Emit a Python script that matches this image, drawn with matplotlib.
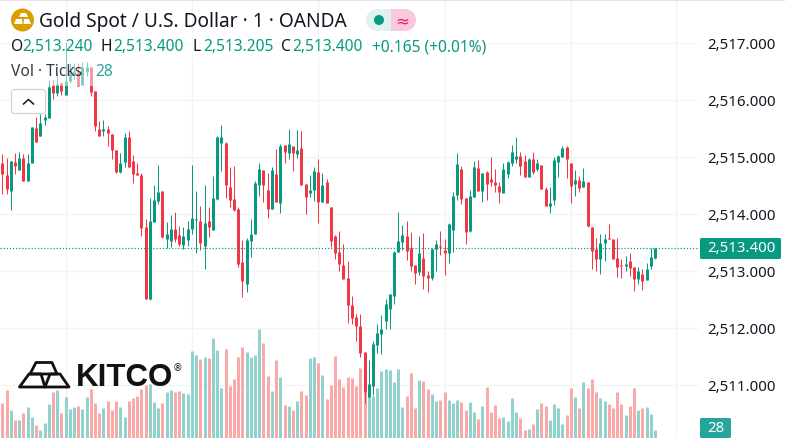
import numpy as np
import matplotlib
matplotlib.use("Agg")
import matplotlib.pyplot as plt
from matplotlib.patches import Circle, FancyBboxPatch, Polygon, Rectangle
from matplotlib.ticker import StrMethodFormatter
from matplotlib.transforms import ScaledTranslation

# ----- Data (prices are stored as offset from price_base) -----

price_base = 2500

opens = [
    14.90, 14.69, 14.41, 14.92, 14.78, 14.99, 14.59, 14.90, 15.52, 15.38,
    15.66, 15.69, 16.27, 16.13, 16.31, 16.10, 16.34, 16.45, 16.50, 16.27,
    16.50, 16.59, 16.17, 15.50, 15.46, 15.50, 15.41, 15.13, 14.75, 14.92,
    15.36, 14.94, 14.73, 14.69, 13.78, 12.51, 13.87, 14.24, 14.41, 13.57,
    13.53, 13.74, 13.64, 13.46, 13.55, 13.74, 13.90, 13.89, 13.45, 13.89,
    13.73, 14.27, 15.25, 15.25, 14.48, 14.27, 14.10, 13.17, 12.78, 13.53,
    13.66, 14.52, 14.78, 14.43, 14.10, 14.71, 14.20, 15.22, 15.08, 15.20,
    15.06, 15.17, 14.53, 14.38, 14.43, 14.75, 14.22, 14.57, 14.13, 13.62,
    13.34, 13.11, 12.89, 12.41, 12.20, 12.04, 11.59, 10.80, 10.99, 11.71,
    11.90, 12.13, 12.34, 12.57, 13.34, 13.52, 13.62, 13.41, 13.11, 12.99,
    13.24, 12.94, 12.89, 13.39, 13.45, 13.38, 13.32, 13.73, 14.34, 14.80,
    14.29, 13.71, 14.31, 14.82, 14.41, 14.75, 14.62, 14.57, 14.50, 14.38,
    14.71, 14.90, 14.97, 15.03, 14.94, 14.66, 14.97, 14.80, 14.87, 14.45,
    14.15, 14.25, 14.92, 15.01, 15.18, 14.90, 14.53, 14.60, 14.48, 14.57,
    13.78, 13.39, 13.22, 13.50, 13.59, 13.57, 13.24, 13.11, 13.10, 13.18,
    13.08, 12.87, 12.96, 12.85, 13.10, 13.24,
]
highs = [
    15.06, 14.99, 14.94, 15.08, 15.10, 15.06, 15.06, 15.53, 15.71, 15.76,
    15.76, 16.36, 16.36, 16.46, 16.32, 17.03, 16.66, 16.66, 16.66, 16.67,
    16.67, 16.59, 16.17, 15.64, 15.66, 15.55, 15.41, 15.13, 15.08, 15.43,
    15.46, 15.04, 14.90, 14.73, 13.92, 14.29, 14.52, 14.87, 14.41, 13.87,
    13.99, 14.04, 13.80, 13.78, 13.89, 14.87, 14.41, 14.15, 14.52, 14.13,
    14.68, 15.38, 15.57, 15.27, 14.83, 14.85, 14.13, 13.55, 13.59, 13.92,
    14.59, 14.90, 14.78, 14.73, 14.83, 15.15, 15.24, 15.22, 15.50, 15.20,
    15.48, 15.46, 14.53, 14.69, 14.83, 14.97, 14.73, 14.62, 14.13, 13.64,
    13.71, 13.48, 13.18, 12.57, 12.25, 12.25, 11.59, 11.45, 11.78, 12.08,
    12.24, 12.52, 12.61, 13.36, 14.04, 13.82, 13.89, 13.69, 13.11, 13.62,
    13.67, 13.01, 13.41, 13.55, 13.71, 13.57, 13.85, 14.39, 15.08, 14.85,
    14.29, 14.43, 14.94, 14.96, 14.73, 14.76, 15.01, 14.80, 14.57, 14.90,
    14.94, 15.22, 15.36, 15.10, 15.04, 14.99, 15.10, 14.97, 14.87, 14.48,
    14.48, 15.01, 15.04, 15.20, 15.20, 14.90, 14.78, 14.68, 14.82, 14.57,
    13.78, 13.59, 13.66, 13.66, 13.83, 13.57, 13.59, 13.22, 13.27, 13.32,
    13.08, 13.08, 13.04, 13.15, 13.41, 13.40,
]
lows = [
    14.36, 14.36, 14.08, 14.71, 14.78, 14.59, 14.59, 14.90, 15.27, 15.38,
    15.57, 15.69, 16.03, 16.08, 16.10, 16.10, 16.31, 16.38, 16.25, 16.27,
    16.43, 16.08, 15.46, 15.38, 15.38, 15.20, 14.97, 14.73, 14.73, 14.83,
    14.83, 14.55, 14.69, 13.62, 12.51, 12.50, 13.87, 14.18, 13.59, 13.41,
    13.43, 13.52, 13.45, 13.39, 13.45, 13.66, 13.32, 13.38, 13.04, 13.60,
    13.73, 14.25, 14.76, 14.29, 14.13, 14.06, 13.08, 12.55, 12.64, 13.25,
    13.66, 14.32, 14.22, 13.94, 14.10, 14.22, 14.03, 14.90, 14.97, 14.76,
    14.99, 14.52, 14.01, 14.31, 14.24, 13.84, 14.22, 14.20, 13.43, 13.22,
    13.01, 12.87, 12.10, 12.08, 11.78, 11.50, 10.69, 10.80, 10.83, 11.57,
    11.55, 11.99, 11.99, 12.43, 13.33, 13.38, 13.20, 13.01, 12.78, 12.94,
    12.69, 12.64, 12.85, 13.00, 13.29, 12.94, 13.15, 13.34, 14.25, 14.18,
    13.48, 13.69, 14.31, 14.41, 14.22, 14.25, 14.50, 14.39, 14.20, 14.38,
    14.64, 14.85, 14.90, 14.69, 14.66, 14.66, 14.71, 14.76, 14.45, 14.15,
    14.03, 14.17, 14.66, 15.01, 14.64, 14.20, 14.32, 14.39, 14.48, 13.78,
    13.04, 13.01, 12.96, 13.18, 13.57, 13.22, 12.90, 12.89, 13.01, 12.92,
    12.66, 12.78, 12.68, 12.85, 13.04, 13.22,
]
closes = [
    14.71, 14.45, 14.94, 14.85, 14.99, 14.59, 14.90, 15.53, 15.27, 15.60,
    15.71, 16.24, 16.13, 16.29, 16.17, 16.34, 16.48, 16.52, 16.25, 16.59,
    16.59, 16.15, 15.55, 15.38, 15.50, 15.43, 15.13, 14.75, 14.90, 15.36,
    14.83, 14.71, 14.69, 13.76, 12.51, 13.89, 14.25, 14.39, 13.60, 13.66,
    13.74, 13.57, 13.48, 13.62, 13.74, 13.94, 13.92, 13.50, 13.85, 13.78,
    14.29, 15.36, 15.36, 14.52, 14.25, 14.08, 13.13, 12.83, 13.55, 13.66,
    14.55, 14.80, 14.52, 14.10, 14.78, 14.22, 15.20, 15.10, 15.24, 15.08,
    15.13, 14.52, 14.31, 14.43, 14.76, 14.22, 14.52, 14.20, 13.54, 13.32,
    13.13, 12.87, 12.40, 12.18, 12.04, 11.57, 10.89, 11.03, 11.73, 11.92,
    11.99, 12.43, 12.61, 13.34, 13.53, 13.64, 13.36, 13.10, 12.97, 13.32,
    12.92, 12.89, 13.39, 13.48, 13.43, 13.32, 13.83, 14.32, 14.89, 14.27,
    13.69, 14.32, 14.83, 14.41, 14.73, 14.53, 14.57, 14.52, 14.39, 14.80,
    14.92, 15.10, 15.03, 14.85, 14.66, 14.97, 14.75, 14.90, 14.45, 14.15,
    14.20, 14.96, 15.03, 15.17, 14.97, 14.50, 14.60, 14.46, 14.59, 13.80,
    13.36, 13.22, 13.50, 13.57, 13.57, 13.22, 13.08, 13.10, 13.13, 13.06,
    12.87, 13.01, 12.83, 13.04, 13.25, 13.40,
]
volumes = [
    122, 168, 98, 63, 63, 88, 108, 74, 46, 28,
    52, 119, 161, 168, 88, 144, 102, 108, 112, 102,
    144, 172, 122, 88, 105, 130, 98, 130, 108, 74,
    130, 140, 147, 172, 186, 189, 126, 105, 122, 161,
    168, 161, 164, 158, 154, 304, 290, 276, 284, 280,
    350, 308, 175, 312, 182, 206, 284, 318, 301, 284,
    290, 382, 332, 217, 164, 273, 214, 116, 112, 98,
    130, 164, 150, 280, 284, 262, 220, 136, 186, 287,
    206, 178, 214, 210, 182, 245, 161, 147, 147, 175,
    234, 241, 238, 196, 241, 108, 147, 228, 105, 203,
    200, 172, 154, 130, 133, 161, 133, 122, 133, 126,
    98, 126, 91, 66, 112, 178, 91, 116, 70, 74,
    60, 140, 91, 70, 28, 32, 49, 102, 122, 112,
    63, 119, 105, 49, 80, 175, 144, 105, 196, 175,
    206, 161, 140, 130, 119, 105, 161, 119, 80, 112,
    175, 98, 105, 108, 84, 28,
]

price_ticks = [2511, 2512, 2513, 2514, 2515, 2516, 2517]
time_ticks = [15, 45, 75, 105, 135, 160]
last_price = 2513.4
last_volume = 28

# ----- Style -----

W, H = 785, 439
PANE_W = 698
PX = 0.72  # one pixel in points at dpi 100
GREEN = "#089981"
RED = "#f23645"
VOL_GREEN = "#92d2cc"
VOL_RED = "#f9a9a8"
GRID = "#f2f3f5"
TEXT = "#131722"

plt.rcParams["font.family"] = ["Noto Sans", "DejaVu Sans"]

fig = plt.figure(figsize=(W / 100, H / 100), dpi=100, facecolor="white")
rect = [0, 0, PANE_W / W, 1]

x = np.arange(len(closes))
o = np.array(opens) + price_base
h = np.array(highs) + price_base
l = np.array(lows) + price_base
c = np.array(closes) + price_base
up = c >= o

xlim = (-0.57, 165.2)
ylim = (2510.075, 2517.777)

# ----- Grid and price scale -----

ax = fig.add_axes(rect, zorder=0)
ax.set_xlim(xlim)
ax.set_ylim(ylim)
ax.set_yticks(price_ticks)
ax.set_xticks(time_ticks)
ax.tick_params(axis="x", length=0, labelbottom=False)
ax.tick_params(axis="y", length=0, labelleft=False, labelright=True, pad=6.6,
               labelsize=10.8, labelcolor=TEXT)
ax.yaxis.set_major_formatter(StrMethodFormatter("{x:,.3f}"))
ax.grid(True, color=GRID, linewidth=1.0)
for s in ax.spines.values():
    s.set_visible(False)
# labels sit about a pixel above their gridline
up_1px = ScaledTranslation(0, 1 / 100, fig.dpi_scale_trans)
for t in ax.yaxis.get_major_ticks():
    t.label2.set_transform(t.label2.get_transform() + up_1px)

# ----- Volume -----

ax_vol = fig.add_axes(rect, zorder=1)
ax_vol.set_xlim(xlim)
ax_vol.set_ylim(0, H * 3.5)
vol_lines = ax_vol.vlines(x, 0, volumes, linewidth=3 * PX,
                          colors=[VOL_GREEN if u else VOL_RED for u in up])
vol_lines.set_capstyle("butt")
vol_lines.set_snap(True)
ax_vol.axis("off")

# ----- Candles -----

ax_c = fig.add_axes(rect, zorder=2)
ax_c.set_xlim(xlim)
ax_c.set_ylim(ylim)
colors = [GREEN if u else RED for u in up]
wicks = ax_c.vlines(x, l, h, colors=colors, linewidth=PX)
wicks.set_capstyle("butt")
wicks.set_snap(True)
bodies = ax_c.vlines(x, np.minimum(o, c), np.minimum(o, c) + np.maximum(np.abs(c - o), 0.018),
                     colors=colors, linewidth=3 * PX)
bodies.set_capstyle("butt")
bodies.set_snap(True)
ax_c.plot(xlim, [last_price, last_price], color=GREEN, linewidth=PX * 1.2,
          linestyle=(0, (1, 1.6)), dash_capstyle="butt", snap=True)
ax_c.axis("off")

# ----- Overlay in figure pixels (legend, tags, logo) -----

ov = fig.add_axes([0, 0, 1, 1], zorder=3)
ov.set_xlim(0, W)
ov.set_ylim(H, 0)
ov.axis("off")

ov.add_patch(Rectangle((0, 0), W, 1.6, color="#e0e3eb", linewidth=0))

# legend rows fade what is behind them
ov.add_patch(Rectangle((8, 36), 482, 24, color="white", alpha=0.5, linewidth=0))
ov.add_patch(Rectangle((8, 60), 110, 27, color="white", alpha=0.5, linewidth=0))

# gold icon
ov.add_patch(Circle((22.5, 21), 11.5, color="#d99e00", linewidth=0))
ov.add_patch(Polygon([(19, 18), (21, 14), (26, 14), (28, 18)], color="white", linewidth=0))
ov.add_patch(Polygon([(14, 25), (16, 20), (22, 20), (22.5, 25)], color="white", linewidth=0))
ov.add_patch(Polygon([(23.5, 25), (24, 20), (29, 20), (31, 25)], color="white", linewidth=0))

ov.text(39, 22.5, "Gold Spot / U.S. Dollar \u00b7 1 \u00b7 OANDA", fontsize=13.8,
        color=TEXT, va="center", ha="left")

# status pill
ov.add_patch(Rectangle((377, 10), 14, 22, color="#dff2ef", linewidth=0))
ov.add_patch(Circle((377, 21), 11, color="#dff2ef", linewidth=0))
ov.add_patch(Rectangle((391, 10), 14, 22, color="#f8c8dc", linewidth=0))
ov.add_patch(Circle((405, 21), 11, color="#f8c8dc", linewidth=0))
ov.add_patch(Circle((379, 21), 5, color=GREEN, linewidth=0))
ov.text(402.5, 21, "\u2248", fontsize=12, color="#e91e63", va="center", ha="center",
        family="DejaVu Sans")

# OHLC row
row = [
    (11, "O", TEXT), (22, "2,513.240", GREEN), (101, "H", TEXT), (113, "2,513.400", GREEN),
    (193, "L", TEXT), (203, "2,513.205", GREEN), (281, "C", TEXT), (292, "2,513.400", GREEN),
    (372, "+0.165 (+0.01%)", GREEN),
]
for px, s, col in row:
    ov.text(px, 47, s, fontsize=11.2, color=col, va="center", ha="left")

ov.text(11, 72, "Vol \u00b7 Ticks", fontsize=11.2, color=TEXT, va="center", ha="left", alpha=0.85)
ov.text(95, 72, str(last_volume), fontsize=11.2, color="#26a69a", va="center", ha="left")

# collapse button
ov.add_patch(FancyBboxPatch((11.5, 90.5), 34, 24, boxstyle="round,pad=0,rounding_size=3",
                            facecolor="white", edgecolor="#d1d4dc", linewidth=0.9))
ov.plot([23.5, 28.5, 33.5], [105, 100.5, 105], color=TEXT, linewidth=1.1)

# last price and volume tags
ov.add_patch(FancyBboxPatch((700, 239), 81, 21, boxstyle="round,pad=0,rounding_size=1.5",
                            color=GREEN, linewidth=0))
ov.text(741, 249, f"{last_price:,.3f}", fontsize=10.8, color="white", va="center",
        ha="center", fontweight="bold")
ov.add_patch(FancyBboxPatch((700, 419), 31, 20, boxstyle="round,pad=0,rounding_size=1.5",
                            color="#26a69a", linewidth=0))
ov.text(715.5, 429, str(last_volume), fontsize=10.8, color="white", va="center",
        ha="center", fontweight="bold")

# KITCO logo
for pts in [[(19.5, 388), (29, 375), (41, 375), (45, 388)],
            [(45, 388), (50, 375), (60, 375), (69, 388)],
            [(30, 375), (36, 363.5), (52, 363.5), (57, 375)]]:
    ov.add_patch(Polygon(pts, closed=True, fill=False, edgecolor="#111111",
                         linewidth=2.0, joinstyle="round"))
ov.text(75.5, 378.5, "KITCO", fontsize=22.5, color="#111111", va="center", ha="left",
        family="Liberation Sans", fontweight="bold")
ov.text(178, 368.5, "\u00ae", fontsize=7, color="#111111", va="center", ha="center",
        family="DejaVu Sans")

fig.savefig("out.png", dpi=100)
